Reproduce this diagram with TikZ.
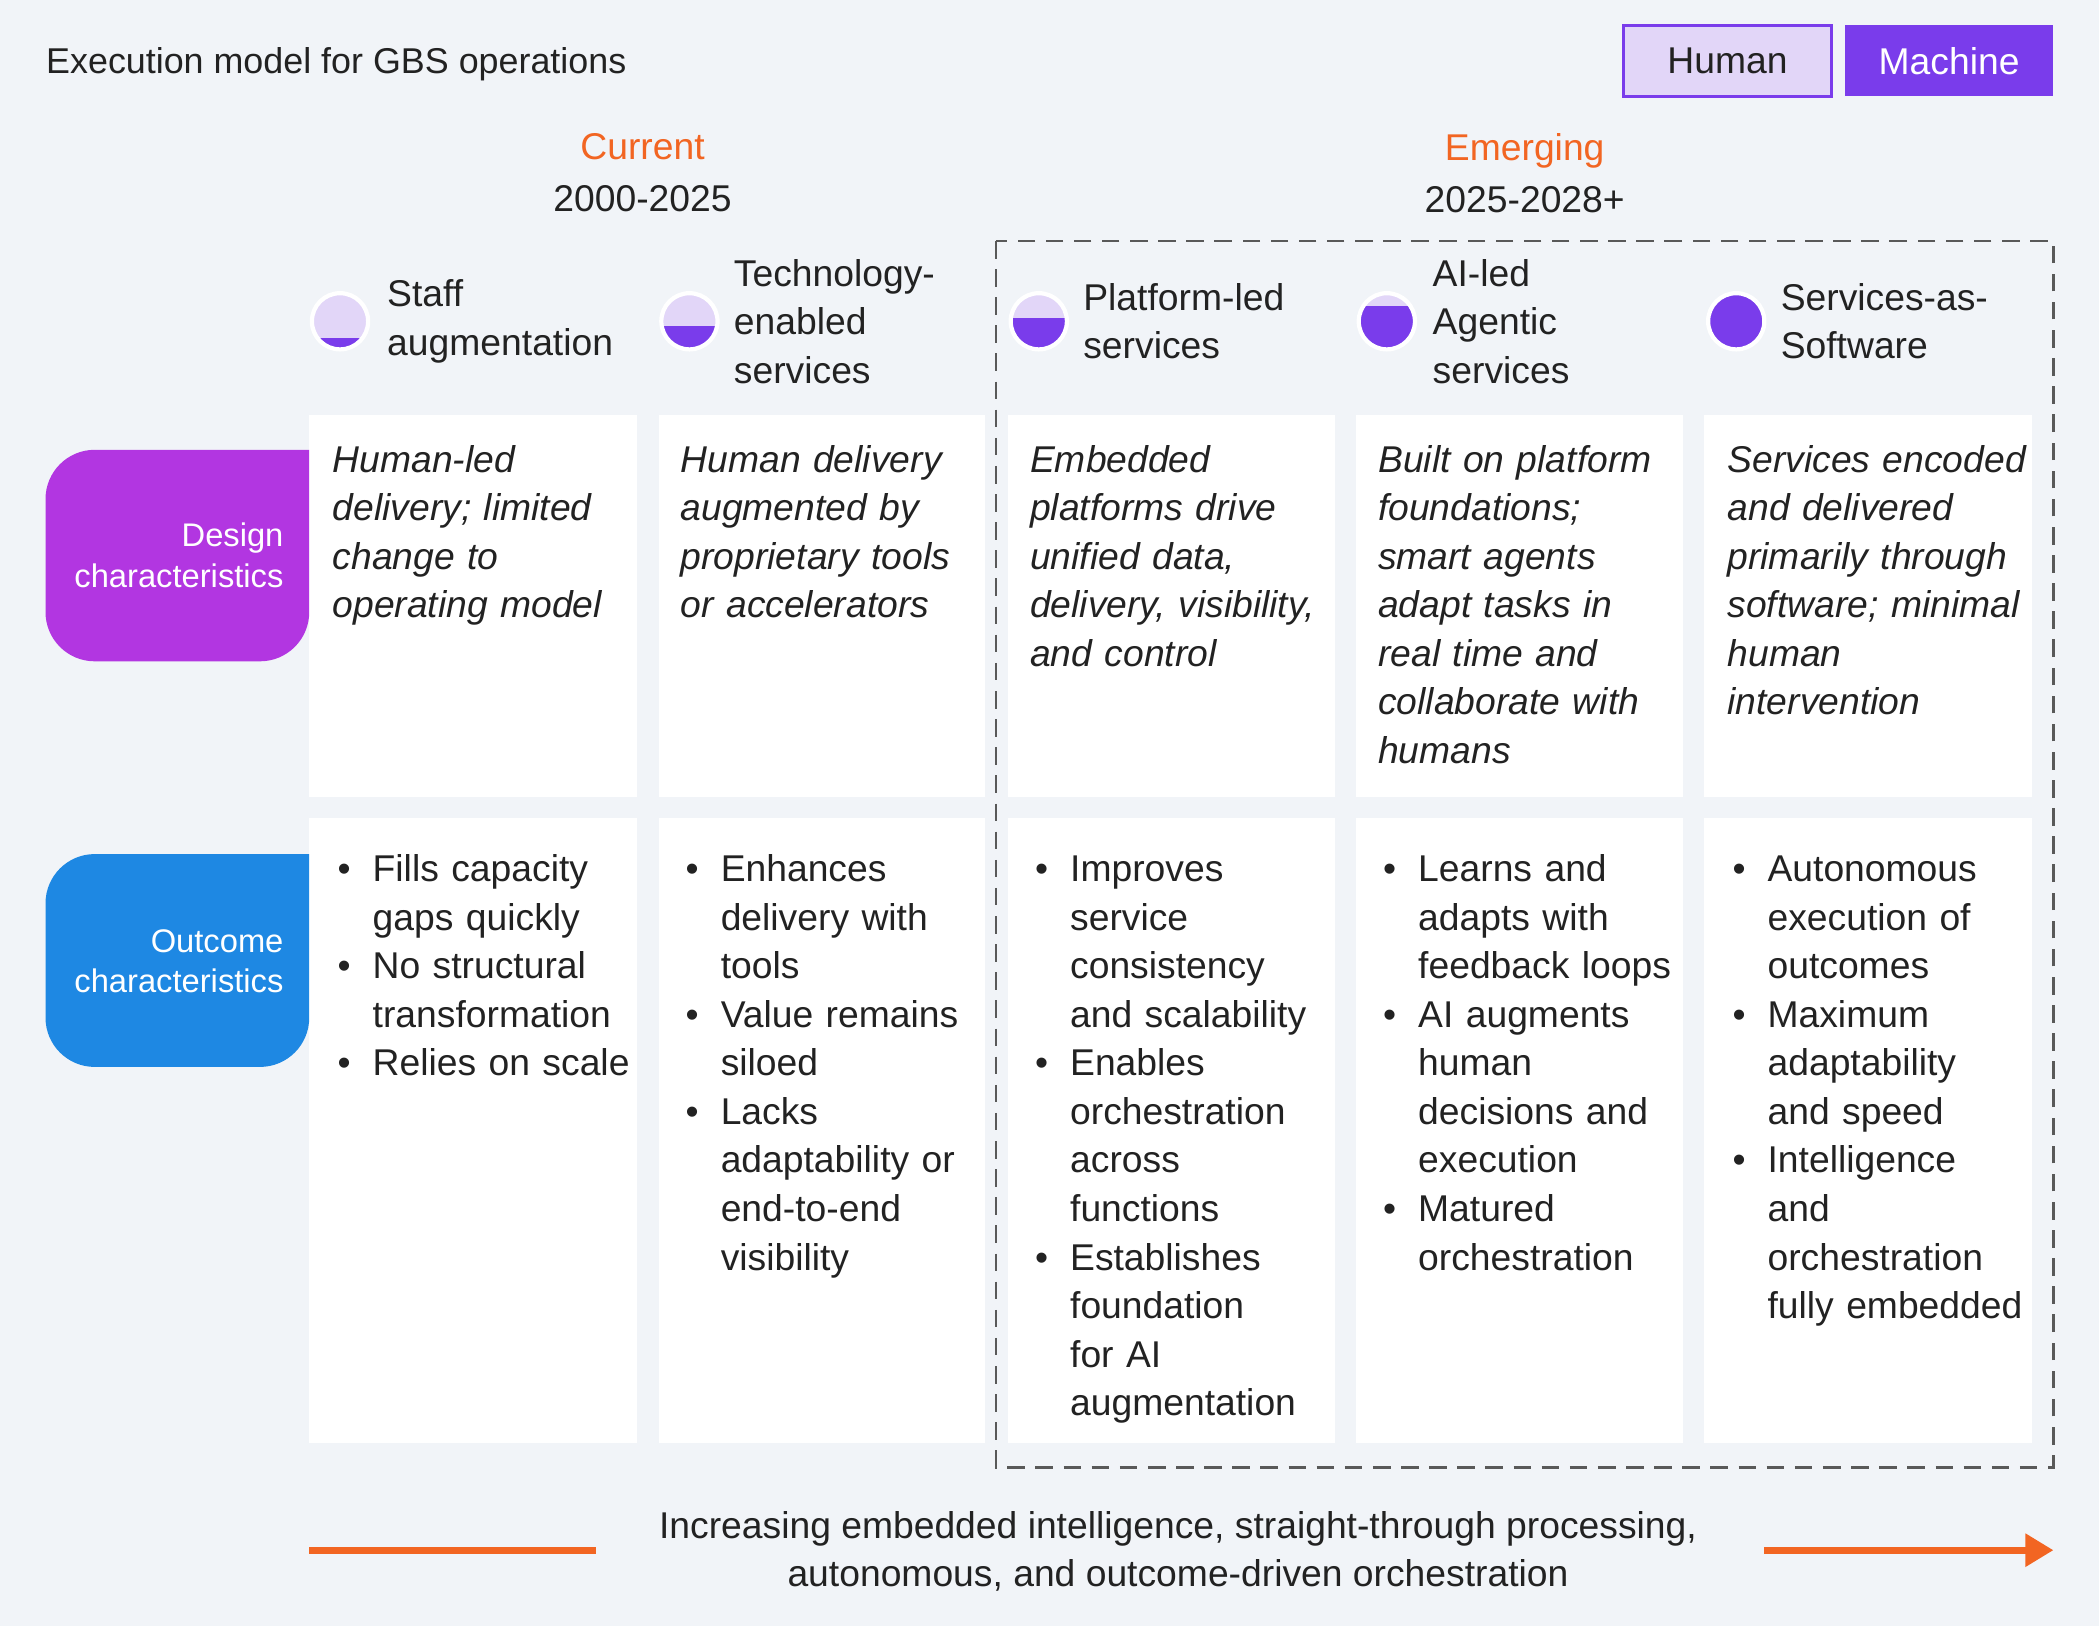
\documentclass[tikz,border=0pt]{standalone}
\usepackage{fontspec}
\setmainfont{Liberation Sans}
\usepackage{enumitem}
\usetikzlibrary{arrows.meta}
\definecolor{bgc}{HTML}{F1F4F8}
\definecolor{lav}{HTML}{E2D6F8}
\definecolor{purp}{HTML}{7A3CEB}
\definecolor{mag}{HTML}{B236E1}
\definecolor{blu}{HTML}{1E88E3}
\definecolor{orng}{HTML}{F26522}
\definecolor{ink}{HTML}{222222}
\newcommand{\gbsdisc}[4]{% name, x, y, fraction filled
  \begin{scope}
    \clip (#2,#3) circle (21);
    \fill[lav] (#2-22,#3-22) rectangle (#2+22,#3+22);
    \fill[purp] (#2-22,#3+21) rectangle (#2+22,#3+21-42*#4);
  \end{scope}
  \node[circle, draw=white, line width=1.2pt, minimum size=42*0.013387cm, inner sep=0] (#1) at (#2,#3) {};
}
\newcommand{\gbsbul}[1]{\begin{itemize}[leftmargin=0.40cm,labelsep=0.22cm,itemsep=0pt,topsep=0pt,parsep=0pt]#1\end{itemize}}
\begin{document}
\begin{tikzpicture}[
	x=0.013387cm, y=-0.013387cm,
	font=\fontsize{10.6}{13.8}\selectfont,
	text=ink
]
\tikzset{
    card/.style = {fill=white, draw=none},
    sidetxt/.style = {anchor=east, align=right, text=white, font=\fontsize{9.3}{11.6}\selectfont},
    head/.style = {anchor=west, align=left},
    design/.style = {anchor=north west, inner sep=0, text width=3.6cm, align=left, font=\fontsize{10.6}{13.8}\selectfont\itshape},
    outcome/.style = {anchor=north west, inner sep=0, text width=3.6cm, align=left},
    era/.style = {align=center},
    legend/.style = {minimum width=155*0.013387cm, minimum height=53*0.013387cm, inner sep=0},
}
\fill[bgc] (0,0) rectangle (1568,1215);
\useasboundingbox (0,0) rectangle (1568,1215);
% title and legend
\node[anchor=west, inner sep=0, font=\fontsize{10.2}{12}\selectfont] (title) at (34,48) {Execution model for GBS operations};
\node[legend, fill=lav, draw=purp, line width=0.8pt] (human) at (1290.5,45.5) {Human};
\node[legend, fill=purp, text=white] (machine) at (1456,45.5) {Machine};
% eras
\node[era] (cur) at (480,129) {\textcolor{orng}{Current}\\[1pt]2000-2025};
\node[era] (emg) at (1139,129) {\textcolor{orng}{Emerging}\\[1pt]2025-2028+};
\draw[draw=gray!70!black, line width=0.8pt, dash pattern=on 5pt off 3pt] (744,180) rectangle (1534,1096);
% cards
\foreach \xa/\xb in {231/476, 492/736, 753/997, 1013/1257, 1273/1518} {
  \fill[card] (\xa,310) rectangle (\xb,595);
  \fill[card] (\xa,611) rectangle (\xb,1078);
}
% row labels
\fill[mag, rounded corners=14pt] (231,336) -- (34+0,336) -- (34,494) -- (231,494) [sharp corners] -- cycle;
\node[sidetxt] (dlab) at (221,415) {Design\\characteristics};
\fill[blu, rounded corners=14pt] (231,638) -- (34,638) -- (34,797) -- (231,797) [sharp corners] -- cycle;
\node[sidetxt] (olab) at (221,718) {Outcome\\characteristics};
% headers
\gbsdisc{d1}{254}{240}{0.2}
\gbsdisc{d2}{515}{240}{0.42}
\gbsdisc{d3}{776}{240}{0.55}
\gbsdisc{d4}{1036}{240}{0.78}
\gbsdisc{d5}{1297}{240}{1}
\node[head] (h1) at (280,240) {Staff\\augmentation};
\node[head] (h2) at (539,240) {Technology-\\enabled\\services};
\node[head] (h3) at (800,240) {Platform-led\\services};
\node[head] (h4) at (1061,240) {AI-led\\Agentic\\services};
\node[head] (h5) at (1321,240) {Services-as-\\Software};
% design characteristics
\node[design] (t1) at (248,332) {Human-led\\delivery; limited\\change to\\operating model};
\node[design] (t2) at (508,332) {Human delivery\\augmented by\\proprietary tools\\or accelerators};
\node[design] (t3) at (769,332) {Embedded\\platforms drive\\unified data,\\delivery, visibility,\\and control};
\node[design] (t4) at (1029,332) {Built on platform\\foundations;\\smart agents\\adapt tasks in\\real time and\\collaborate with\\humans};
\node[design] (t5) at (1290,332) {Services encoded\\and delivered\\primarily through\\software; minimal\\human\\intervention};
% outcome characteristics
\node[outcome] (o1) at (248,622) {\gbsbul{\item Fills capacity\\gaps quickly \item No structural\\transformation \item Relies on scale}};
\node[outcome] (o2) at (508,622) {\gbsbul{\item Enhances\\delivery with\\tools \item Value remains\\siloed \item Lacks\\adaptability or\\end-to-end\\visibility}};
\node[outcome] (o3) at (769,622) {\gbsbul{\item Improves\\service\\consistency\\and scalability \item Enables\\orchestration\\across\\functions \item Establishes\\foundation\\for AI\\augmentation}};
\node[outcome] (o4) at (1029,622) {\gbsbul{\item Learns and\\adapts with\\feedback loops \item AI augments\\human\\decisions and\\execution \item Matured\\orchestration}};
\node[outcome] (o5) at (1290,622) {\gbsbul{\item Autonomous\\execution of\\outcomes \item Maximum\\adaptability\\and speed \item Intelligence\\and\\orchestration\\fully embedded}};
% trend arrow
\node[align=center] (trend) at (880,1159) {Increasing embedded intelligence, straight-through processing,\\autonomous, and outcome-driven orchestration};
\coordinate (la) at (231,1158);
\coordinate (lb) at (445,1158);
\coordinate (ra) at (1318,1158);
\coordinate (rb) at (1534,1158);
\draw[orng, line width=2pt] (la) -- (lb);
\draw[orng, line width=2pt, -{Triangle[length=8pt,width=9pt]}] (ra) -- (rb);
\end{tikzpicture}
\end{document}
